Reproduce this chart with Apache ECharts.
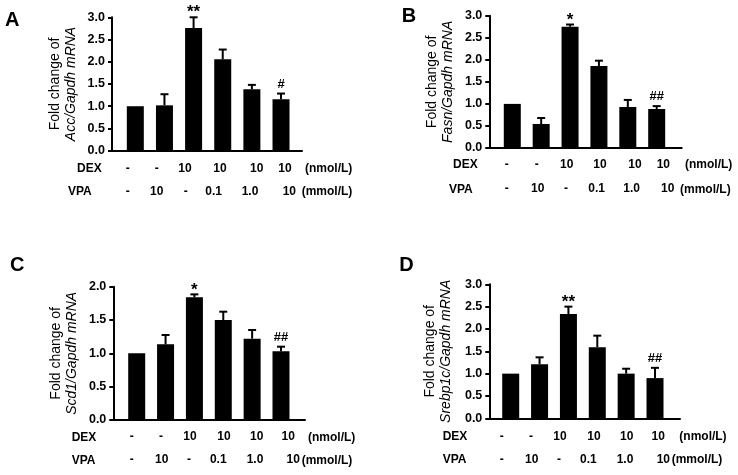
<!DOCTYPE html>
<html><head><meta charset="utf-8">
<script src="https://cdn.jsdelivr.net/npm/echarts@6/dist/echarts.min.js"></script>
<style>html,body{margin:0;padding:0;background:#fff}#c{width:738px;height:475px}</style>
</head><body><div id="c"></div>
<script>
// ---------- data ----------
const groups = [1, 2, 3, 4, 5, 6];
const dexLabels = ['-', '-', '10', '10', '10', '10'];
const vpaLabels = ['-', '10', '-', '0.1', '1.0', '10'];

const accMean = [1.00, 1.02, 2.76, 2.055, 1.38, 1.155];
const accErr  = [0, 0.25, 0.24, 0.22, 0.10, 0.13];
const accSig  = ['', '', '**', '', '', '#'];

const fasnMean = [1.00, 0.545, 2.75, 1.86, 0.93, 0.885];
const fasnErr  = [0, 0.135, 0.05, 0.12, 0.16, 0.065];
const fasnSig  = ['', '', '*', '', '', '##'];

const scd1Mean = [1.00, 1.135, 1.84, 1.50, 1.22, 1.03];
const scd1Err  = [0, 0.14, 0.045, 0.125, 0.13, 0.07];
const scd1Sig  = ['', '', '*', '', '', '##'];

const srebpMean = [1.00, 1.21, 2.335, 1.59, 1.00, 0.90];
const srebpErr  = [0, 0.155, 0.165, 0.26, 0.11, 0.23];
const srebpSig  = ['', '', '**', '', '', '##'];

const yMaxA = 3.0, yMaxB = 3.0, yMaxC = 2.0, yMaxD = 3.0;
const yInterval = 0.5;

// ---------- layout ----------
const FONT = '"Liberation Sans", Arial, Helvetica, sans-serif';
const panels = [
  { letter: 'A', gene: 'Acc/Gapdh mRNA', mean: accMean, err: accErr, sig: accSig, yMax: yMaxA,
    grid: { left: 112, top: 17.3, width: 190, height: 133.4 }, xMin: 0.2, xMax: 6.72,
    dexPos: [0.739, 1.734, 2.706, 3.907, 5.166, 6.137], vpaPos: [0.739, 1.734, 2.730, 3.690, 4.936, 6.285],
    dexMargin: 12, vpaMargin: 35, nameGap: 33,
    letterXY: [5, 20], dexXY: [77, 169], vpaXY: [68, 192], nmolXY: [305, 169], mmolXY: [301.7, 192] },
  { letter: 'B', gene: 'Fasn/Gapdh mRNA', mean: fasnMean, err: fasnErr, sig: fasnSig, yMax: yMaxB,
    grid: { left: 489.3, top: 15.7, width: 192.4, height: 132.3 }, xMin: 0.204, xMax: 6.866,
    dexPos: [0.806, 1.845, 2.884, 4.037, 5.249, 6.229], vpaPos: [0.806, 1.880, 2.859, 3.922, 5.134, 6.381],
    dexMargin: 10.5, vpaMargin: 35, nameGap: 33,
    letterXY: [401.7, 16.3], dexXY: [453, 165], vpaXY: [449, 189.3], nmolXY: [685, 165], mmolXY: [680, 189.3] },
  { letter: 'C', gene: 'Scd1/Gapdh mRNA', mean: scd1Mean, err: scd1Err, sig: scd1Sig, yMax: yMaxC,
    grid: { left: 113.3, top: 286.7, width: 191.7, height: 133.3 }, xMin: 0.189, xMax: 6.832,
    dexPos: [0.827, 1.842, 2.847, 4.025, 5.158, 6.253], vpaPos: [0.827, 1.866, 2.812, 3.827, 5.099, 6.426],
    dexMargin: 11, vpaMargin: 34, nameGap: 33,
    letterXY: [10, 265.5], dexXY: [71.7, 437.3], vpaXY: [71.7, 460.7], nmolXY: [308, 437.3], mmolXY: [301.7, 460.7] },
  { letter: 'D', gene: 'Srebp1c/Gapdh mRNA', mean: srebpMean, err: srebpErr, sig: srebpSig, yMax: yMaxD,
    grid: { left: 489.3, top: 284.3, width: 190.7, height: 134 }, xMin: 0.258, xMax: 6.866,
    dexPos: [0.688, 1.703, 2.708, 3.886, 5.019, 6.114], vpaPos: [0.688, 1.728, 2.674, 3.689, 4.960, 6.288],
    dexMargin: 12, vpaMargin: 35, nameGap: 35,
    letterXY: [399.3, 265.5], dexXY: [442.7, 436.7], vpaXY: [442.7, 460], nmolXY: [679.3, 436.7], mmolXY: [671.7, 460] }
];

function nearestIdx(arr, v) {
  let best = 0, d = Infinity;
  arr.forEach((p, i) => { const dd = Math.abs(p - v); if (dd < d) { d = dd; best = i; } });
  return best;
}

const grids = [], xAxes = [], yAxes = [], series = [], graphics = [];
const lbl = { color: '#000', fontWeight: 'bold', fontSize: 12, fontFamily: FONT };

panels.forEach((p, i) => {
  grids.push(Object.assign({ containLabel: false, outerBoundsMode: 'none' }, p.grid));
  xAxes.push({
    gridIndex: i, type: 'value', min: p.xMin, max: p.xMax, position: 'bottom',
    axisLine: { show: true, onZero: false, lineStyle: { color: '#000', width: 2 } },
    axisTick: { show: false }, axisLabel: { show: false }, splitLine: { show: false }
  });
  xAxes.push({
    gridIndex: i, type: 'value', min: p.xMin, max: p.xMax, position: 'bottom',
    axisLine: { show: false }, axisTick: { show: false }, splitLine: { show: false },
    axisLabel: Object.assign({ customValues: p.dexPos, margin: p.dexMargin, hideOverlap: false,
      formatter: v => dexLabels[nearestIdx(p.dexPos, v)] }, lbl)
  });
  xAxes.push({
    gridIndex: i, type: 'value', min: p.xMin, max: p.xMax, position: 'bottom',
    axisLine: { show: false }, axisTick: { show: false }, splitLine: { show: false },
    axisLabel: Object.assign({ customValues: p.vpaPos, margin: p.vpaMargin, hideOverlap: false,
      formatter: v => vpaLabels[nearestIdx(p.vpaPos, v)] }, lbl)
  });
  yAxes.push({
    gridIndex: i, type: 'value', min: 0, max: p.yMax, interval: yInterval,
    axisLine: { show: true, onZero: false, lineStyle: { color: '#000', width: 2 } },
    axisTick: { show: true, length: 4, lineStyle: { color: '#000', width: 2 } },
    splitLine: { show: false },
    axisLabel: Object.assign({ margin: 7, formatter: v => v.toFixed(1) }, lbl, { fontSize: 12.5 }),
    name: 'Fold change of\n{i|' + p.gene + '}',
    nameLocation: 'middle', nameRotate: 90, nameGap: p.nameGap,
    nameTextStyle: { color: '#000', fontSize: 14, fontFamily: FONT, lineHeight: 16, align: 'center',
      rich: { i: { fontStyle: 'italic', fontSize: 14, fontFamily: FONT, color: '#000', lineHeight: 16 } } }
  });
  series.push({
    type: 'bar', xAxisIndex: 3 * i, yAxisIndex: i, barWidth: 17, silent: true,
    itemStyle: { color: '#000' },
    data: groups.map((g, k) => [g, p.mean[k]])
  });
  series.push({
    type: 'custom', xAxisIndex: 3 * i, yAxisIndex: i, clip: false, silent: true, z: 5,
    data: groups.map((g, k) => [g, p.mean[k], p.err[k], k]),
    renderItem: (params, api) => {
      const x = api.value(0), m = api.value(1), e = api.value(2), k = api.value(3);
      const base = api.coord([x, m]);
      const top = api.coord([x, m + e]);
      const ch = [];
      if (e > 0) {
        ch.push({ type: 'line', shape: { x1: top[0], y1: base[1], x2: top[0], y2: top[1] },
          style: { stroke: '#000', lineWidth: 2 } });
        ch.push({ type: 'line', shape: { x1: top[0] - 4, y1: top[1], x2: top[0] + 4, y2: top[1] },
          style: { stroke: '#000', lineWidth: 2 } });
      }
      const s = p.sig[k];
      if (s) {
        const star = s.indexOf('*') >= 0;
        ch.push({ type: 'text', x: top[0], y: top[1] + (star ? 4 : -3),
          style: { text: s, align: 'center', verticalAlign: 'bottom', fill: '#000',
            font: (star ? 'bold 17px ' : 'bold 13px ') + FONT } });
      }
      return { type: 'group', children: ch };
    }
  });
  const t = (txt, xy, size) => ({ type: 'text', x: xy[0], y: xy[1], silent: true,
    style: { text: txt, fill: '#000', font: 'bold ' + size + 'px ' + FONT, align: 'left', verticalAlign: 'middle' } });
  graphics.push(t(p.letter, p.letterXY, 20));
  graphics.push(t('DEX', p.dexXY, 12));
  graphics.push(t('VPA', p.vpaXY, 12));
  graphics.push(t('(nmol/L)', p.nmolXY, 12));
  graphics.push(t('(mmol/L)', p.mmolXY, 12));
});

const chart = echarts.init(document.getElementById('c'), null, { renderer: 'canvas' });
chart.setOption({
  backgroundColor: '#fff',
  animation: false,
  textStyle: { fontFamily: FONT },
  grid: grids, xAxis: xAxes, yAxis: yAxes, series: series, graphic: graphics
});
</script></body></html>
